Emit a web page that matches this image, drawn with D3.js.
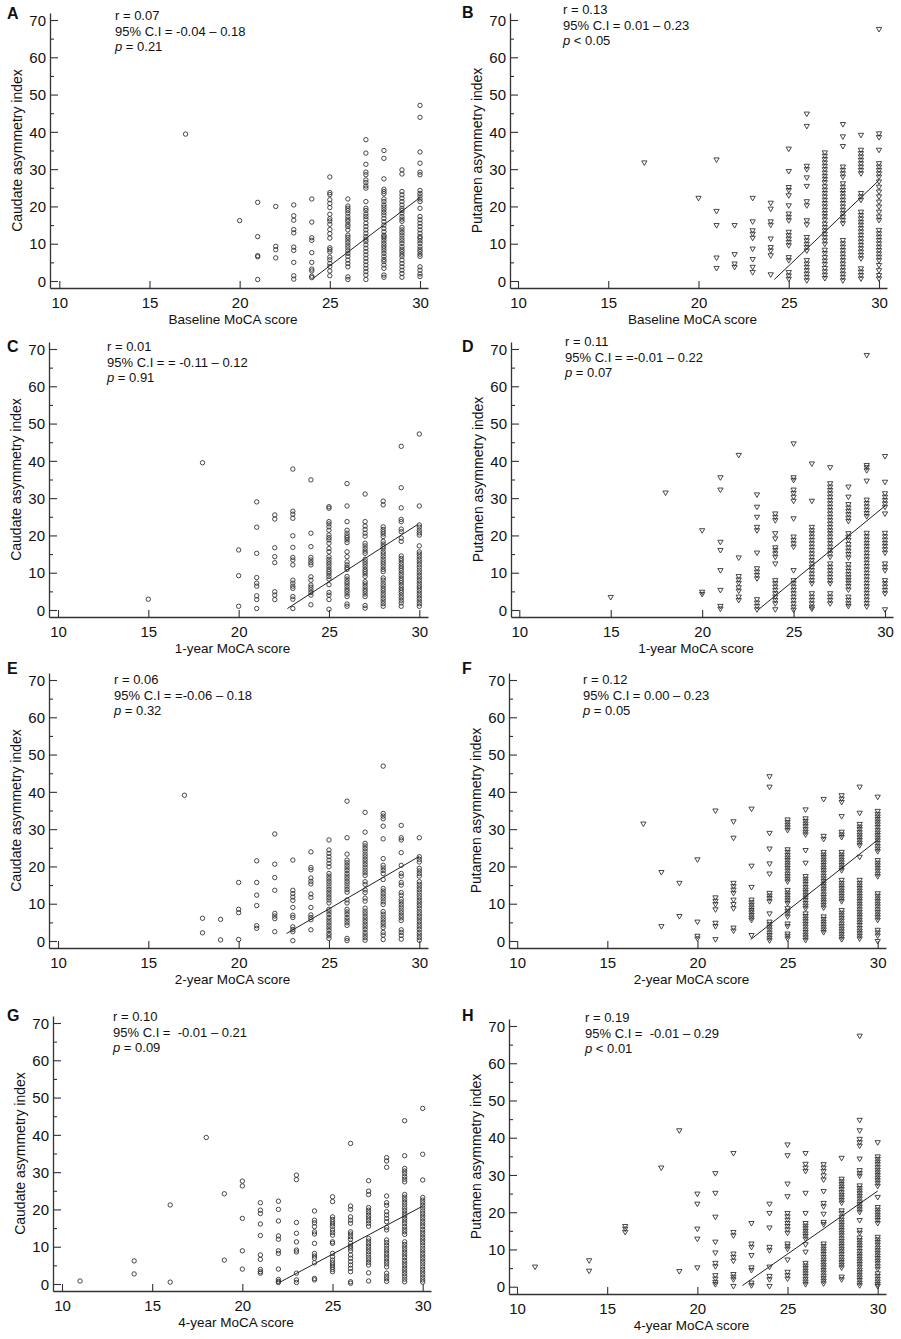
<!DOCTYPE html>
<html>
<head>
<meta charset="utf-8">
<script src="https://cdn.jsdelivr.net/npm/d3@7"></script>
<style>
  body { margin: 0; background: #fff; }
  svg { display: block; font-family: "Liberation Sans", Arial, sans-serif; }
</style>
</head>
<body>
<div id="chart"></div>
<script>
// MoCA score columns -> asymmetry index values
const caudateBaseline = [
  [17, [39.4]],
  [20, [16.2]],
  [21, [21.1, 11.9, 6.8, 6.5, 0.4]],
  [22, [20.0, 9.3, 8.4, 6.2]],
  [23, [20.4, 17.5, 16.3, 13.8, 12.9, 9.1, 8.2, 5.0, 1.4, 0.5]],
  [24, [22.0, 15.8, 11.6, 10.9, 7.6, 5.0, 3.2, 2.7, 1.3, 0.9]],
  [25, [27.9, 23.7, 23.2, 21.8, 20.8, 19.7, 17.9, 16.7, 16.1, 15.2, 13.8, 12.7, 11.5, 8.9, 8.4, 7.8, 6.4, 5.7, 4.7, 3.9, 2.7, 1.4]],
  [26, [22.0, 20.1, 19.5, 18.9, 18.2, 17.3, 16.6, 16.0, 15.2, 14.6, 13.7, 12.3, 11.7, 11.0, 10.3, 9.6, 8.9, 8.1, 7.4, 6.6, 5.6, 4.7, 3.8, 1.1, 0.4]],
  [27, [37.9, 34.3, 31.3, 29.2, 28.5, 27.1, 26.4, 25.5, 24.9, 21.3, 19.5, 18.9, 18.0, 17.3, 16.6, 15.5, 14.6, 13.7, 12.8, 11.9, 11.2, 10.6, 9.7, 8.8, 7.9, 7.0, 6.1, 5.2, 4.3, 3.4, 2.5, 1.6, 0.4]],
  [28, [35.0, 32.9, 27.4, 24.6, 24.0, 23.4, 22.0, 21.3, 20.4, 19.8, 19.1, 18.4, 17.7, 16.8, 15.9, 15.0, 14.1, 13.2, 12.3, 11.9, 11.5, 10.8, 10.1, 9.4, 8.8, 8.1, 7.4, 6.6, 5.8, 5.2, 4.3, 3.4, 1.6, 1.0]],
  [29, [29.8, 28.7, 24.0, 23.1, 22.2, 21.3, 20.4, 19.5, 18.9, 18.2, 17.3, 16.6, 16.0, 14.4, 13.7, 13.0, 12.3, 11.5, 10.8, 10.1, 9.2, 8.5, 7.9, 7.2, 6.6, 5.6, 4.7, 3.8, 2.9, 2.0, 1.0]],
  [30, [47.1, 43.9, 34.6, 31.6, 29.2, 28.5, 24.3, 23.5, 22.8, 22.0, 21.3, 19.5, 17.3, 16.4, 15.5, 14.6, 13.7, 12.8, 11.9, 11.5, 10.8, 10.1, 9.2, 8.5, 7.9, 7.2, 6.6, 3.8, 2.9, 1.9, 1.2]]
];

const putamenBaseline = [
  [17, [31.8]],
  [20, [22.3]],
  [21, [32.6, 18.8, 15.0, 6.3, 3.5]],
  [22, [15.0, 7.2, 4.7, 3.8]],
  [23, [22.3, 16.0, 13.6, 12.7, 11.6, 8.7, 5.9, 3.8, 2.4]],
  [24, [21.0, 19.4, 16.0, 15.1, 11.4, 9.1, 8.2, 6.9, 1.8]],
  [25, [35.5, 29.5, 25.2, 24.4, 23.0, 20.3, 18.1, 17.2, 16.3, 13.2, 12.3, 11.4, 10.5, 9.6, 6.4, 5.6, 2.4, 1.5, 0.6]],
  [26, [44.9, 41.6, 30.9, 30.0, 27.8, 25.5, 21.4, 20.3, 16.3, 15.2, 11.8, 10.9, 10.0, 9.1, 8.2, 5.6, 4.7, 3.8, 2.9, 2.0, 1.1, 0.2]],
  [27, [34.5, 33.6, 32.7, 31.8, 30.9, 30.0, 29.1, 28.2, 27.4, 26.5, 25.4, 24.5, 23.6, 22.7, 21.8, 20.9, 20.0, 19.1, 18.2, 17.4, 16.5, 15.4, 14.5, 13.6, 12.7, 11.8, 10.9, 10.0, 8.4, 7.5, 6.4, 5.5, 4.6, 3.5, 2.6, 1.7, 0.8]],
  [28, [42.1, 38.8, 36.2, 30.7, 29.8, 28.9, 28.0, 26.2, 25.3, 24.4, 23.6, 22.7, 21.8, 20.9, 20.0, 19.1, 18.2, 17.3, 16.4, 15.5, 11.0, 10.1, 9.2, 8.3, 7.4, 6.5, 5.6, 4.7, 3.8, 2.9, 2.0, 1.1, 0.2]],
  [29, [39.2, 35.2, 34.3, 33.4, 32.5, 31.6, 30.7, 29.8, 28.9, 23.6, 22.7, 21.8, 18.6, 17.7, 16.8, 15.9, 15.1, 14.2, 13.3, 12.4, 11.5, 10.6, 9.7, 8.8, 7.9, 7.0, 6.1, 3.4, 2.5, 1.6, 0.7]],
  [30, [67.6, 39.6, 38.6, 35.2, 31.6, 30.7, 29.8, 28.9, 28.0, 26.7, 25.3, 24.0, 22.7, 21.3, 20.0, 18.6, 17.3, 16.4, 13.7, 12.8, 11.9, 11.0, 10.1, 9.2, 8.3, 7.4, 6.5, 5.6, 4.3, 2.9, 1.6, 0.7]]
];

const caudateYear1 = [
  [15, [2.9]],
  [18, [39.5]],
  [20, [16.1, 9.2, 1.0]],
  [21, [29.0, 22.2, 15.2, 8.7, 7.2, 6.4, 3.8, 2.8, 0.4]],
  [22, [25.5, 24.4, 16.7, 14.3, 12.7, 4.9, 4.0, 2.8]],
  [23, [37.8, 26.5, 25.7, 24.6, 19.9, 16.8, 14.1, 13.4, 12.1, 8.0, 7.2, 6.4, 5.8, 3.6, 2.9, 0.4]],
  [24, [34.9, 20.6, 17.0, 14.1, 13.4, 12.7, 12.1, 8.9, 8.0, 6.7, 6.1, 5.4, 4.7, 4.0, 1.4]],
  [25, [27.7, 27.3, 23.7, 23.1, 22.3, 21.4, 20.1, 19.4, 18.8, 17.9, 16.5, 15.6, 14.3, 13.6, 12.9, 12.3, 11.6, 10.9, 10.3, 9.7, 9.0, 8.3, 6.8, 4.7, 4.0, 2.8, 0.2]],
  [26, [33.9, 27.9, 23.7, 21.4, 20.6, 19.9, 19.4, 18.8, 18.1, 15.6, 14.3, 12.9, 12.1, 11.4, 10.9, 9.0, 8.3, 7.6, 7.0, 6.3, 5.6, 5.0, 4.3, 3.6, 1.6, 1.0]],
  [27, [31.1, 23.7, 22.5, 21.6, 20.6, 19.8, 17.9, 17.2, 16.5, 15.8, 15.2, 13.6, 12.9, 12.3, 11.6, 10.9, 10.3, 9.7, 9.0, 7.6, 7.0, 6.3, 5.6, 5.0, 4.3, 3.6, 1.2, 0.5]],
  [28, [29.2, 28.2, 22.3, 21.6, 21.0, 20.4, 19.7, 18.4, 17.7, 17.0, 16.4, 15.6, 15.0, 14.3, 13.6, 12.9, 12.3, 11.6, 10.9, 10.3, 8.6, 8.0, 7.2, 6.5, 5.8, 5.2, 4.5, 3.8, 3.1, 2.4, 1.7, 1.0]],
  [29, [43.9, 32.8, 27.4, 24.3, 23.7, 21.7, 21.0, 19.3, 18.4, 14.5, 13.8, 13.2, 12.5, 11.8, 11.2, 10.6, 9.9, 9.2, 8.5, 7.9, 7.3, 6.6, 5.9, 5.3, 4.7, 4.0, 3.3, 2.6, 1.9, 1.0]],
  [30, [47.2, 27.9, 22.8, 22.2, 21.4, 20.7, 20.1, 17.2, 15.6, 15.0, 14.3, 13.6, 12.9, 12.2, 11.5, 10.7, 10.0, 9.3, 8.6, 7.9, 7.2, 6.5, 5.9, 5.2, 4.5, 3.8, 3.1, 2.4, 1.7, 1.0]]
];

const putamenYear1 = [
  [15, [3.5]],
  [18, [31.5]],
  [20, [21.4, 4.9, 4.3]],
  [21, [35.6, 32.3, 18.3, 16.1, 10.7, 5.4, 1.1, 0.4]],
  [22, [41.6, 14.1, 9.1, 8.2, 7.3, 6.1, 5.2, 3.6, 2.7]],
  [23, [31.0, 27.7, 25.0, 22.3, 21.4, 15.4, 11.2, 10.3, 9.4, 8.5, 2.9, 2.0, 1.1, 0.2]],
  [24, [25.9, 25.0, 24.1, 20.6, 19.2, 16.8, 16.1, 15.2, 14.3, 12.5, 8.0, 7.2, 6.3, 5.4, 4.5, 3.6, 2.7, 1.8, 0.2]],
  [25, [44.7, 35.6, 34.9, 32.3, 31.4, 30.4, 29.3, 24.6, 19.7, 18.8, 17.9, 17.0, 10.7, 8.0, 7.2, 6.3, 5.4, 4.5, 3.6, 2.7, 1.8, 0.9, 0.1]],
  [26, [39.3, 29.3, 22.3, 21.4, 20.6, 19.7, 18.8, 17.9, 17.0, 16.1, 15.2, 14.3, 13.4, 12.5, 11.6, 10.7, 9.8, 8.9, 8.0, 7.2, 4.5, 3.6, 2.7, 1.8, 0.9, 0.4]],
  [27, [38.3, 34.0, 33.1, 32.2, 31.3, 30.4, 29.5, 28.6, 27.7, 26.8, 25.9, 25.0, 24.1, 23.2, 22.3, 21.4, 20.6, 19.7, 18.8, 17.9, 17.0, 16.1, 15.2, 14.3, 12.5, 11.6, 10.7, 9.8, 8.9, 8.0, 7.2, 4.5, 3.6, 2.7, 1.8]],
  [28, [33.1, 30.4, 28.4, 27.5, 26.6, 25.7, 24.8, 23.9, 20.6, 19.7, 18.8, 17.7, 16.8, 15.9, 15.0, 14.1, 12.3, 11.4, 10.5, 9.6, 8.8, 8.0, 7.3, 6.4, 5.5, 3.6, 2.7, 1.8, 1.1]],
  [29, [68.4, 38.9, 38.3, 37.5, 34.7, 29.6, 28.7, 27.8, 26.9, 26.0, 25.2, 20.7, 19.8, 18.9, 18.0, 17.2, 16.3, 15.4, 14.5, 13.6, 12.7, 11.8, 10.9, 10.0, 9.1, 8.2, 7.3, 6.4, 5.5, 4.6, 3.7, 2.8, 1.9, 1.0]],
  [30, [41.3, 34.4, 31.3, 30.4, 29.5, 28.6, 27.7, 25.9, 20.7, 19.8, 18.9, 18.0, 17.2, 16.3, 15.4, 12.5, 11.6, 10.7, 8.0, 7.2, 6.3, 5.4, 4.5, 0.2]]
];

const caudateYear2 = [
  [17, [39.1]],
  [18, [6.1, 2.2]],
  [19, [5.8, 0.3]],
  [20, [15.7, 8.5, 7.6, 0.4]],
  [21, [21.5, 15.7, 12.3, 9.5, 4.1, 3.4]],
  [22, [28.7, 20.6, 17.0, 13.6, 7.4, 6.7, 6.0, 2.5]],
  [23, [21.7, 13.6, 12.7, 11.8, 10.9, 9.0, 6.9, 6.3, 3.8, 3.1, 2.5, 0.1]],
  [24, [23.9, 19.7, 19.1, 16.9, 16.0, 15.3, 12.6, 11.7, 9.0, 7.0, 6.3, 5.7, 3.0]],
  [25, [27.1, 24.4, 23.5, 22.6, 21.7, 20.8, 19.9, 18.1, 17.4, 16.7, 16.0, 15.3, 14.5, 13.8, 13.1, 12.4, 11.7, 11.0, 10.2, 8.5, 7.8, 7.1, 6.3, 5.6, 4.9, 4.2, 3.5, 2.8, 2.0, 1.4, 0.7]],
  [26, [37.5, 27.7, 23.3, 21.7, 21.0, 20.3, 19.6, 18.9, 18.1, 17.4, 16.7, 16.0, 15.3, 14.5, 13.8, 13.1, 11.0, 10.2, 8.5, 7.8, 7.1, 6.3, 5.6, 4.9, 4.2, 0.7, 0.1]],
  [27, [34.5, 29.2, 26.2, 25.5, 24.8, 24.1, 23.3, 22.6, 21.9, 21.2, 20.5, 19.8, 19.0, 18.3, 17.6, 15.9, 15.2, 13.7, 13.0, 11.5, 10.7, 8.8, 8.0, 7.3, 6.6, 5.9, 5.2, 4.5, 3.8, 3.1, 2.3, 1.6, 0.9, 0.2]],
  [28, [46.9, 34.2, 33.5, 32.8, 30.8, 27.4, 22.1, 20.3, 19.6, 18.9, 18.1, 16.5, 14.1, 13.4, 12.7, 12.0, 11.3, 10.5, 9.8, 7.9, 7.2, 6.4, 5.7, 5.0, 4.3, 3.6, 2.3, 1.6, 0.4]],
  [29, [31.0, 27.7, 27.1, 23.7, 20.3, 18.1, 17.4, 15.7, 15.0, 13.0, 12.3, 11.2, 10.5, 9.8, 9.1, 8.3, 7.6, 6.9, 6.2, 5.5, 3.0, 2.3, 1.5, 0.5]],
  [30, [27.7, 22.6, 21.9, 21.2, 19.5, 18.8, 18.1, 17.4, 15.9, 15.2, 14.5, 13.8, 13.1, 12.3, 11.6, 10.9, 10.2, 9.5, 8.8, 8.0, 7.3, 6.6, 5.9, 5.2, 4.5, 3.8, 3.1, 2.3, 1.6, 0.9, 0.2]]
];

const putamenYear2 = [
  [17, [31.5]],
  [18, [18.5, 4.0]],
  [19, [15.6, 6.7]],
  [20, [21.9, 5.2, 1.4, 0.7]],
  [21, [35.0, 11.7, 10.8, 9.9, 8.5, 4.9, 4.0, 0.5]],
  [22, [32.1, 27.7, 15.6, 14.7, 13.8, 12.9, 11.1, 9.9, 8.8, 3.6, 2.8]],
  [23, [35.5, 20.2, 14.5, 11.1, 10.4, 9.7, 9.0, 8.3, 7.7, 7.0, 6.3, 5.7, 1.6]],
  [24, [44.2, 41.4, 29.0, 24.8, 20.8, 18.1, 12.9, 12.2, 11.5, 10.7, 7.4, 5.2, 4.5, 3.8, 3.1, 2.3, 1.6, 0.9, 0.2]],
  [25, [32.6, 31.9, 31.2, 30.5, 29.8, 24.6, 23.9, 23.1, 22.4, 21.7, 21.0, 20.3, 19.6, 18.9, 18.1, 17.4, 16.7, 16.0, 13.7, 13.0, 12.3, 11.6, 10.9, 10.2, 8.8, 8.1, 7.4, 6.6, 4.7, 4.0, 2.0, 1.4, 0.7]],
  [26, [35.3, 32.9, 32.2, 31.5, 30.8, 30.0, 29.3, 28.6, 24.4, 21.0, 17.4, 16.7, 16.0, 15.3, 14.5, 13.8, 13.1, 12.4, 11.7, 11.0, 10.2, 9.5, 8.8, 7.4, 6.7, 6.0, 5.3, 4.6, 3.9, 3.1, 2.4, 1.7, 1.0, 0.3]],
  [27, [38.1, 28.2, 27.4, 23.9, 23.2, 22.5, 21.8, 21.1, 20.4, 19.7, 19.0, 18.3, 17.5, 16.8, 16.1, 15.4, 14.7, 14.0, 13.3, 12.5, 11.8, 11.1, 10.4, 9.7, 9.0, 6.6, 5.9, 5.2, 4.5, 3.8, 3.1, 2.4]],
  [28, [39.1, 38.2, 37.3, 33.5, 29.3, 28.6, 27.9, 23.9, 23.2, 22.5, 21.8, 21.1, 20.4, 19.7, 19.0, 16.4, 15.6, 14.9, 14.2, 13.5, 12.8, 12.1, 11.4, 10.7, 8.3, 7.6, 6.9, 6.2, 5.5, 4.7, 4.0, 3.3, 2.6, 1.9, 1.2, 0.5]],
  [29, [41.4, 34.4, 31.4, 30.7, 30.0, 29.2, 28.5, 27.8, 27.1, 26.4, 25.7, 22.6, 16.4, 15.6, 14.9, 14.2, 13.5, 12.8, 12.1, 11.4, 10.7, 10.0, 9.3, 8.5, 7.8, 7.1, 6.4, 5.7, 5.0, 4.3, 3.5, 2.8, 2.1, 1.4, 0.7]],
  [30, [38.7, 34.9, 34.1, 33.4, 32.7, 32.0, 31.3, 30.6, 29.8, 29.1, 28.4, 27.7, 27.0, 26.3, 25.5, 24.8, 24.1, 21.7, 21.0, 20.3, 19.6, 18.9, 18.1, 17.4, 12.8, 12.1, 11.4, 10.7, 10.0, 9.3, 8.5, 7.8, 7.1, 6.4, 5.7, 3.0, 2.3, 1.5, 0.0]]
];

const caudateYear4 = [
  [11, [0.8]],
  [14, [6.2, 2.7]],
  [16, [21.2, 0.5]],
  [18, [39.3]],
  [19, [24.2, 6.4]],
  [20, [27.6, 26.3, 17.6, 8.9, 4.0]],
  [21, [21.8, 19.8, 18.9, 16.1, 13.0, 7.8, 6.6, 3.9, 3.3, 2.9]],
  [22, [22.2, 20.0, 16.9, 12.9, 12.0, 8.9, 8.2, 4.0, 1.2, 0.7, 0.4]],
  [23, [29.2, 28.0, 16.5, 13.6, 11.3, 9.1, 8.6, 2.9, 1.1, 0.4]],
  [24, [19.6, 17.1, 16.4, 15.4, 14.0, 13.4, 10.9, 8.2, 7.5, 6.9, 5.7, 1.5, 1.1]],
  [25, [23.4, 22.1, 18.0, 17.3, 16.7, 16.1, 15.4, 14.5, 13.8, 13.1, 11.3, 10.9, 8.2, 7.3, 6.4, 5.7, 5.1, 4.5, 3.9, 3.3]],
  [26, [37.7, 20.9, 20.0, 18.0, 17.1, 16.3, 14.0, 13.4, 12.7, 12.0, 10.9, 10.2, 9.6, 8.9, 7.8, 6.9, 6.0, 5.1, 4.2, 3.3, 0.6, 0.2]],
  [27, [27.7, 24.9, 24.0, 20.5, 19.8, 19.1, 18.4, 17.7, 17.0, 16.3, 15.5, 12.2, 11.5, 10.8, 10.1, 9.4, 8.7, 8.0, 7.2, 6.5, 5.8, 5.1, 3.0, 0.8]],
  [28, [33.9, 33.0, 31.3, 23.6, 21.8, 21.1, 19.4, 18.5, 17.6, 16.7, 15.2, 14.5, 11.8, 11.1, 10.4, 9.6, 8.9, 8.2, 7.5, 6.8, 6.1, 5.4, 4.6, 2.9, 2.1, 1.4, 0.7]],
  [29, [43.8, 34.4, 31.0, 30.3, 29.6, 28.8, 28.1, 27.4, 24.0, 23.3, 22.6, 21.9, 21.2, 20.4, 19.7, 19.0, 18.3, 17.6, 16.9, 16.2, 15.4, 14.7, 14.0, 13.3, 11.3, 10.6, 9.9, 9.2, 8.5, 7.8, 7.1, 6.3, 5.6, 4.9, 4.2, 3.5, 2.8, 2.1, 1.3, 0.6]],
  [30, [47.1, 34.8, 27.9, 23.2, 22.5, 21.8, 21.1, 20.4, 19.6, 18.9, 18.2, 17.5, 16.8, 16.1, 15.4, 14.6, 13.9, 13.2, 12.5, 11.8, 11.1, 10.4, 9.6, 8.9, 8.2, 7.5, 6.8, 6.1, 5.4, 4.6, 3.9, 3.2, 2.5, 1.8, 1.1, 0.5]]
];

const putamenYear4 = [
  [11, [5.4]],
  [14, [7.1, 4.3]],
  [16, [16.3, 15.6, 14.7]],
  [18, [32.0]],
  [19, [42.0, 4.2]],
  [20, [25.0, 22.3, 15.6, 12.9, 5.2]],
  [21, [30.5, 25.2, 18.8, 12.1, 9.2, 6.4, 5.5, 3.1, 2.2, 1.3, 0.7]],
  [22, [35.9, 14.7, 13.8, 8.9, 8.0, 7.0, 3.4, 2.7, 2.0, 0.2]],
  [23, [17.1, 11.6, 10.7, 8.5, 5.2, 4.5, 1.1, 0.4]],
  [24, [22.3, 19.8, 15.9, 10.7, 9.8, 5.4, 2.9, 2.0, 0.2]],
  [25, [38.2, 35.3, 27.7, 24.3, 19.8, 18.9, 18.0, 17.1, 16.3, 15.4, 14.5, 11.6, 10.9, 10.2, 7.3, 4.0, 3.1, 2.2]],
  [26, [35.9, 33.0, 32.0, 31.1, 25.2, 19.8, 17.1, 16.4, 15.7, 15.0, 14.3, 13.6, 12.9, 11.4, 9.4, 6.4, 5.7, 5.0, 4.3, 3.6, 2.9, 2.1, 1.4, 0.7]],
  [27, [32.9, 32.0, 31.1, 29.9, 28.8, 25.7, 22.5, 21.6, 19.6, 17.4, 16.8, 11.6, 10.9, 10.2, 9.5, 8.8, 8.0, 7.3, 6.6, 5.9, 5.2, 4.5, 3.8, 3.0, 2.3, 1.6, 0.9]],
  [28, [34.6, 29.0, 28.3, 27.6, 26.9, 26.2, 25.4, 24.7, 24.0, 23.3, 22.6, 20.5, 19.8, 18.8, 18.0, 17.3, 16.6, 15.9, 15.2, 14.5, 13.8, 13.0, 12.3, 11.6, 10.9, 10.2, 9.5, 8.8, 8.0, 7.3, 6.6, 5.9, 5.2, 2.7, 2.0]],
  [29, [67.4, 44.8, 42.0, 39.7, 38.8, 37.9, 34.4, 31.3, 30.5, 29.8, 27.2, 26.5, 25.8, 25.1, 24.4, 23.7, 22.9, 22.2, 21.5, 20.8, 20.1, 17.9, 15.2, 14.5, 13.2, 12.5, 11.8, 11.1, 10.4, 9.6, 8.9, 8.2, 7.5, 6.8, 6.1, 5.4, 4.6, 3.9, 3.2, 2.5, 1.8, 1.1, 0.4]],
  [30, [38.8, 35.0, 34.3, 33.6, 32.9, 32.1, 31.4, 30.7, 30.0, 29.3, 28.6, 27.9, 27.1, 24.1, 21.4, 20.7, 20.0, 19.3, 18.6, 17.9, 17.1, 13.4, 12.7, 12.0, 11.3, 10.5, 9.8, 9.1, 8.4, 7.7, 7.0, 6.3, 5.5, 4.8, 3.6, 2.9, 2.1, 1.4, 0.7, 0.2]]
];

// regression line end points [score, index]
const fitCaudateBaseline = [[24.1, 0.8], [30, 22.4]];
const fitPutamenBaseline = [[24.2, 0.4], [30, 27.0]];
const fitCaudateYear1 = [[22.7, 0.4], [29.9, 22.9]];
const fitPutamenYear1 = [[23.05, 0.0], [30, 27.9]];
const fitCaudateYear2 = [[22.65, 2.0], [30, 22.7]];
const fitPutamenYear2 = [[22.95, 0.4], [30, 27.1]];
const fitCaudateYear4 = [[22.05, 0.4], [30, 20.9]];
const fitPutamenYear4 = [[22.5, 0.3], [30, 25.7]];

const statsA = ["r = 0.07", "95% C.I = -0.04 \u2013 0.18", "p = 0.21"];
const statsB = ["r = 0.13", "95% C.I = 0.01 \u2013 0.23", "p < 0.05"];
const statsC = ["r = 0.01", "95% C.I = = -0.11 \u2013 0.12", "p = 0.91"];
const statsD = ["r = 0.11", "95% C.I = =-0.01 \u2013 0.22", "p = 0.07"];
const statsE = ["r = 0.06", "95% C.I = =-0.06 \u2013 0.18", "p = 0.32"];
const statsF = ["r = 0.12", "95% C.I = 0.00 \u2013 0.23", "p = 0.05"];
const statsG = ["r = 0.10", "95% C.I =  -0.01 \u2013 0.21", "p = 0.09"];
const statsH = ["r = 0.19", "95% C.I =  -0.01 \u2013 0.29", "p < 0.01"];

const xTitles = ["Baseline MoCA score", "1-year MoCA score", "2-year MoCA score", "4-year MoCA score"];
const yTitles = ["Caudate asymmetry index", "Putamen asymmetry index"];
const xTicks = [10, 15, 20, 25, 30];
const yTicks = [0, 10, 20, 30, 40, 50, 60, 70];
const yMinorTicks = [5, 15, 25, 35, 45, 55, 65];

// layout of each panel (pixel anchors for score 10/30 and index 0/70)
const panels = [
  {letter: "A", data: caudateBaseline, fit: fitCaudateBaseline, stats: statsA, xTitle: xTitles[0], yTitle: yTitles[0], shape: "circle",
   xPix: [59.3, 420], xEnds: [50, 428], yPix: [281, 20], yEnds: [288, 13], statPos: [115, 20], letterPos: [7, 19]},
  {letter: "B", data: putamenBaseline, fit: fitPutamenBaseline, stats: statsB, xTitle: xTitles[0], yTitle: yTitles[1], shape: "triangle",
   xPix: [518, 879], xEnds: [510, 887], yPix: [281, 20], yEnds: [288, 13], statPos: [563, 14], letterPos: [462, 18]},
  {letter: "C", data: caudateYear1, fit: fitCaudateYear1, stats: statsC, xTitle: xTitles[1], yTitle: yTitles[0], shape: "circle",
   xPix: [58, 419.3], xEnds: [49, 428], yPix: [610, 349], yEnds: [617, 342], statPos: [107, 351], letterPos: [7, 352]},
  {letter: "D", data: putamenYear1, fit: fitPutamenYear1, stats: statsD, xTitle: xTitles[1], yTitle: yTitles[1], shape: "triangle",
   xPix: [519.3, 885], xEnds: [511, 893], yPix: [610, 349], yEnds: [617, 342], statPos: [565, 346], letterPos: [462, 352]},
  {letter: "E", data: caudateYear2, fit: fitCaudateYear2, stats: statsE, xTitle: xTitles[2], yTitle: yTitles[0], shape: "circle",
   xPix: [58, 419.3], xEnds: [49, 428], yPix: [941, 680], yEnds: [948, 673], statPos: [114, 684], letterPos: [7, 674]},
  {letter: "F", data: putamenYear2, fit: fitPutamenYear2, stats: statsF, xTitle: xTitles[2], yTitle: yTitles[1], shape: "triangle",
   xPix: [517.2, 877.7], xEnds: [509, 886], yPix: [941, 680], yEnds: [948, 673], statPos: [583, 684], letterPos: [462, 674]},
  {letter: "G", data: caudateYear4, fit: fitCaudateYear4, stats: statsG, xTitle: xTitles[3], yTitle: yTitles[0], shape: "circle",
   xPix: [62, 422.7], xEnds: [53, 431], yPix: [1284, 1023], yEnds: [1291, 1016], statPos: [113, 1021], letterPos: [7, 1021]},
  {letter: "H", data: putamenYear4, fit: fitPutamenYear4, stats: statsH, xTitle: xTitles[3], yTitle: yTitles[1], shape: "triangle",
   xPix: [517, 877.7], xEnds: [509, 886], yPix: [1286.7, 1026], yEnds: [1294, 1019], statPos: [585, 1022], letterPos: [462, 1021]}
];

const ink = "#333";

const svg = d3.select("#chart")
  .append("svg")
  .attr("width", 901)
  .attr("height", 1339);

svg.append("rect").attr("width", 901).attr("height", 1339).attr("fill", "#fff");

panels.forEach(p => {
  // scales anchored on the tick positions, then stretched to the axis ends
  const x = d3.scaleLinear().domain([10, 30]).range(p.xPix);
  x.domain([x.invert(p.xEnds[0]), x.invert(p.xEnds[1])]).range(p.xEnds);
  const y = d3.scaleLinear().domain([0, 70]).range(p.yPix);
  y.domain([y.invert(p.yEnds[0]), y.invert(p.yEnds[1])]).range(p.yEnds);

  const g = svg.append("g");

  const xAxis = d3.axisBottom(x)
    .tickValues(xTicks)
    .tickFormat(d3.format("d"))
    .tickSize(-7)
    .tickSizeOuter(0);

  const gx = g.append("g")
    .attr("transform", `translate(0,${p.yEnds[0]})`)
    .call(xAxis);
  gx.selectAll("text")
    .attr("y", 20).attr("dy", null)
    .attr("font-size", 15).attr("font-family", "Liberation Sans, Arial, sans-serif").attr("fill", "#111");

  const yAxis = d3.axisLeft(y)
    .tickValues(yTicks)
    .tickFormat(d3.format("d"))
    .tickSize(-8)
    .tickSizeOuter(0)
    .tickPadding(4);

  const gy = g.append("g")
    .attr("transform", `translate(${p.xEnds[0]},0)`)
    .call(yAxis);
  gy.selectAll("text")
    .attr("dy", "0.35em")
    .attr("font-size", 15).attr("font-family", "Liberation Sans, Arial, sans-serif").attr("fill", "#111");

  const gm = g.append("g")
    .attr("transform", `translate(${p.xEnds[0]},0)`)
    .call(d3.axisLeft(y).tickValues(yMinorTicks).tickFormat("").tickSize(-4).tickSizeOuter(0));
  gm.select(".domain").remove();

  [gx, gy, gm].forEach(a => {
    a.select(".domain").attr("stroke", ink).attr("stroke-width", 1.3);
    a.selectAll(".tick line").attr("stroke", ink).attr("stroke-width", 1.1);
  });

  // points
  const pts = p.data.flatMap(([score, vals]) => vals.map(v => [score, v]));
  if (p.shape === "circle") {
    g.append("g").selectAll("circle")
      .data(pts)
      .join("circle")
      .attr("cx", d => x(d[0]))
      .attr("cy", d => y(d[1]))
      .attr("r", 2.2)
      .attr("fill", "none")
      .attr("stroke", ink)
      .attr("stroke-width", 0.9);
  } else {
    const tri = d3.symbol(d3.symbolTriangle, 12);
    g.append("g").selectAll("path")
      .data(pts)
      .join("path")
      .attr("d", tri)
      .attr("transform", d => `translate(${x(d[0])},${y(d[1])}) rotate(180)`)
      .attr("fill", "none")
      .attr("stroke", ink)
      .attr("stroke-width", 0.9);
  }

  // regression line
  g.append("line")
    .attr("x1", x(p.fit[0][0])).attr("y1", y(p.fit[0][1]))
    .attr("x2", x(p.fit[1][0])).attr("y2", y(p.fit[1][1]))
    .attr("stroke", "#222")
    .attr("stroke-width", 1);

  // stats block
  p.stats.forEach((s, i) => {
    const t = g.append("text")
      .attr("x", p.statPos[0])
      .attr("y", p.statPos[1] + i * 15.7)
      .attr("font-size", 13)
      .attr("fill", "#111")
      .attr("xml:space", "preserve")
      .style("white-space", "pre");
    if (s.startsWith("p ")) {
      t.append("tspan").attr("font-style", "italic").text("p");
      t.append("tspan").text(s.slice(1));
    } else {
      t.text(s);
    }
  });

  // axis titles
  g.append("text")
    .attr("x", (p.xEnds[0] + p.xEnds[1]) / 2 - 6)
    .attr("y", p.yEnds[0] + 36)
    .attr("text-anchor", "middle")
    .attr("font-size", 13.5)
    .attr("fill", "#111")
    .text(p.xTitle);

  g.append("text")
    .attr("transform", `translate(${p.xEnds[0] - 28},${(p.yEnds[0] + p.yEnds[1]) / 2}) rotate(-90)`)
    .attr("text-anchor", "middle")
    .attr("font-size", 14)
    .attr("fill", "#111")
    .text(p.yTitle);

  // panel letter
  g.append("text")
    .attr("x", p.letterPos[0])
    .attr("y", p.letterPos[1])
    .attr("font-size", 16)
    .attr("font-weight", "bold")
    .attr("fill", "#111")
    .text(p.letter);
});
</script>
</body>
</html>
